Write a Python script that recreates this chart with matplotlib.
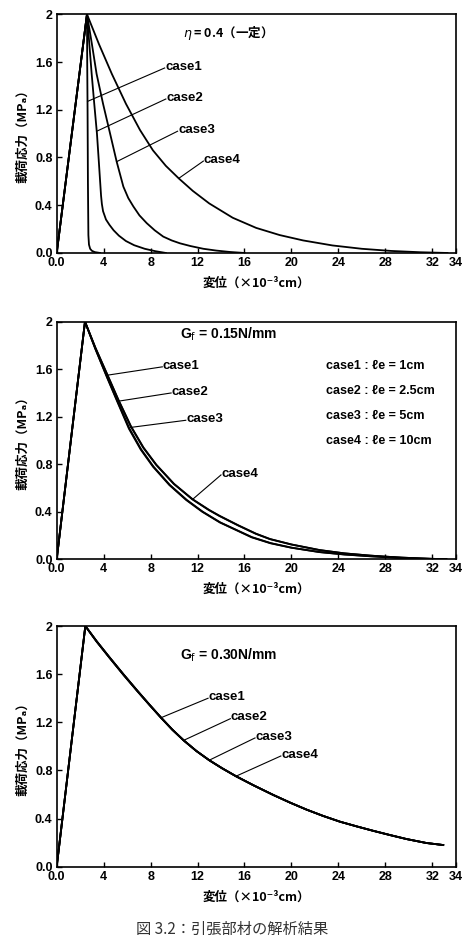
import matplotlib
matplotlib.use('Agg')
import matplotlib.pyplot as plt

# displacement (x1e-3 cm) / loading stress (MPa)
x_ticks = [0, 4, 8, 12, 16, 20, 24, 28, 32, 34]
x_tick_labels = ['0.0', '4', '8', '12', '16', '20', '24', '28', '32', '34']
y_ticks = [0.0, 0.4, 0.8, 1.2, 1.6, 2.0]
y_tick_labels = ['0.0', '0.4', '0.8', '1.2', '1.6', '2']

case_names = ['case1', 'case2', 'case3', 'case4']
le_values = ['1cm', '2.5cm', '5cm', '10cm']

# panel 1 : eta = 0.4 (constant)
eta_c1_x = [0.0, 2.58, 2.6, 2.63, 2.66, 2.7, 2.75, 2.85, 3.0, 3.25, 3.7]
eta_c1_y = [0.0, 2.0, 1.6, 1.2, 0.6, 0.15, 0.07, 0.035, 0.018, 0.007, 0.0]
eta_c2_x = [0.0, 2.58, 2.98, 3.2, 3.43, 3.58, 3.7, 3.78, 3.85, 3.95, 4.2, 4.5, 4.85, 5.3, 5.9, 6.6, 7.5, 8.4, 9.3]
eta_c2_y = [0.0, 2.0, 1.5, 1.25, 1.0, 0.78, 0.6, 0.48, 0.41, 0.35, 0.28, 0.235, 0.19, 0.145, 0.1, 0.065, 0.035, 0.015, 0.0]
eta_c3_x = [0.0, 2.58, 3.0, 3.4, 3.95, 4.55, 5.11, 5.68, 6.1, 6.53, 7.05, 7.67, 8.35, 9.08, 9.8, 10.5, 11.4, 12.5, 13.6, 14.8, 16.0]
eta_c3_y = [0.0, 2.0, 1.75, 1.5, 1.25, 1.0, 0.765, 0.556, 0.46, 0.39, 0.315, 0.25, 0.19, 0.137, 0.105, 0.081, 0.058, 0.035, 0.02, 0.008, 0.0]
eta_c4_x = [0.0, 2.58, 3.6, 4.7, 5.9, 7.1, 8.2, 9.3, 10.4, 11.6, 13.0, 15.0, 17.0, 19.0, 21.0, 23.5, 26.0, 28.5, 31.0, 33.3]
eta_c4_y = [0.0, 2.0, 1.75, 1.5, 1.25, 1.03, 0.86, 0.73, 0.625, 0.52, 0.415, 0.295, 0.21, 0.15, 0.105, 0.063, 0.035, 0.017, 0.006, 0.0]

# panel 2 : Gf = 0.15 N/mm
g15_c1_x = [0.0, 2.41, 3.3, 4.25, 5.15, 6.15, 7.15, 8.2, 9.6, 11.02, 12.4, 13.9, 15.2, 16.6, 18.2, 20.0, 22.4, 24.5, 26.7, 29.0, 31.0, 33.2]
g15_c1_y = [0.0, 2.0, 1.77, 1.54, 1.33, 1.10, 0.925, 0.78, 0.625, 0.50, 0.40, 0.31, 0.25, 0.185, 0.135, 0.097, 0.06, 0.04, 0.025, 0.013, 0.005, 0.0]
g15_c2_x = [0.0, 2.41, 3.3, 4.27, 5.18, 6.2, 7.2, 8.25, 9.65, 11.08, 12.45, 13.95, 15.25, 16.65, 18.25, 20.0, 22.4, 24.5, 26.7, 29.0, 31.0, 33.2]
g15_c2_y = [0.0, 2.0, 1.77, 1.54, 1.33, 1.10, 0.925, 0.78, 0.625, 0.50, 0.40, 0.31, 0.25, 0.186, 0.136, 0.098, 0.061, 0.041, 0.026, 0.013, 0.005, 0.0]
g15_c3_x = [0.0, 2.41, 3.3, 4.32, 5.23, 6.3, 7.37, 8.47, 9.97, 11.55, 12.95, 13.85, 15.45, 16.95, 18.15, 20.0, 22.4, 24.5, 26.7, 29.0, 31.0, 33.2]
g15_c3_y = [0.0, 2.0, 1.78, 1.55, 1.345, 1.12, 0.94, 0.795, 0.635, 0.505, 0.415, 0.365, 0.285, 0.215, 0.17, 0.124, 0.077, 0.05, 0.031, 0.016, 0.007, 0.0]
g15_c4_x = [0.0, 2.41, 3.3, 4.34, 5.25, 6.33, 7.4, 8.5, 10.0, 11.59, 13.0, 13.9, 15.5, 17.0, 18.2, 20.0, 22.4, 24.5, 26.7, 29.0, 31.0, 33.2]
g15_c4_y = [0.0, 2.0, 1.78, 1.55, 1.345, 1.12, 0.94, 0.795, 0.635, 0.505, 0.415, 0.365, 0.285, 0.215, 0.17, 0.125, 0.078, 0.05, 0.031, 0.016, 0.007, 0.0]

# panel 3 : Gf = 0.30 N/mm
g30_x = [0.0, 2.44, 3.4, 4.48, 5.7, 6.9, 7.9, 8.89, 9.85, 10.82, 11.9, 13.0, 14.1, 15.28, 16.8, 18.46, 19.9, 21.3, 22.7, 24.14, 25.6, 26.98, 28.4, 29.8, 31.5, 32.94]
g30_c1_y = [0.0, 2.0, 1.87, 1.738, 1.592, 1.455, 1.344, 1.237, 1.138, 1.049, 0.961, 0.884, 0.817, 0.751, 0.675, 0.596, 0.532, 0.474, 0.422, 0.374, 0.334, 0.298, 0.263, 0.23, 0.197, 0.18]
g30_c2_y = [0.0, 2.0, 1.872, 1.74, 1.595, 1.457, 1.346, 1.238, 1.139, 1.05, 0.962, 0.885, 0.818, 0.752, 0.675, 0.596, 0.532, 0.474, 0.422, 0.374, 0.334, 0.298, 0.263, 0.23, 0.197, 0.18]
g30_c3_y = [0.0, 2.0, 1.874, 1.742, 1.597, 1.459, 1.347, 1.239, 1.14, 1.05, 0.962, 0.885, 0.818, 0.752, 0.675, 0.596, 0.532, 0.474, 0.422, 0.374, 0.334, 0.298, 0.263, 0.23, 0.197, 0.18]
g30_c4_y = [0.0, 2.0, 1.875, 1.743, 1.598, 1.46, 1.348, 1.24, 1.14, 1.05, 0.962, 0.885, 0.818, 0.752, 0.675, 0.596, 0.532, 0.474, 0.422, 0.374, 0.334, 0.298, 0.263, 0.23, 0.197, 0.18]

NUM_FONT = ['Liberation Sans', 'DejaVu Sans']
JP_FONT = ['Noto Sans CJK JP', 'DejaVu Sans']


def setup_axes(ax):
  ax.set_xlim(0, 34)
  ax.set_ylim(0, 2)
  ax.set_xticks(x_ticks)
  ax.set_xticklabels(x_tick_labels)
  ax.set_yticks(y_ticks)
  ax.set_yticklabels(y_tick_labels)
  ax.tick_params(direction='in', length=3.5, width=1, labelsize=9, pad=3)
  for lab in ax.get_xticklabels() + ax.get_yticklabels():
    lab.set_family(NUM_FONT)
    lab.set_fontweight('bold')
  for sp in ax.spines.values():
    sp.set_linewidth(1.2)
  ax.text(0.5, -0.127, '変位（×10⁻³cm）', transform=ax.transAxes, ha='center', va='center',
          fontsize=9, family=JP_FONT, fontweight='bold')
  ax.text(-0.085, 0.5, '載荷応力（MPₐ）', transform=ax.transAxes, ha='center', va='center',
          rotation=90, fontsize=9, family=JP_FONT, fontweight='bold')


def draw_curves(ax, curves):
  for xs, ys in curves:
    ax.plot(xs, ys, color='black', lw=1.3, solid_joinstyle='round')


def draw_leaders(ax, starts, ends):
  for (sx, sy), (ex, ey), name in zip(starts, ends, case_names):
    ax.plot([sx, ex], [sy, ey], color='black', lw=0.8)
    ax.text(ex + 0.05, ey + 0.01, name, ha='left', va='center', fontsize=9.5,
            family=NUM_FONT, fontweight='bold')


fig = plt.figure(figsize=(4.69, 9.39), dpi=100)
fig.patch.set_facecolor('white')

ax1 = fig.add_axes([0.1209, 0.7306, 0.8507, 0.2542])
ax2 = fig.add_axes([0.1209, 0.4044, 0.8507, 0.2530])
ax3 = fig.add_axes([0.1209, 0.0770, 0.8507, 0.2563])

# panel 1
draw_curves(ax1, [(eta_c1_x, eta_c1_y), (eta_c2_x, eta_c2_y), (eta_c3_x, eta_c3_y), (eta_c4_x, eta_c4_y)])
draw_leaders(ax1, [(2.63, 1.27), (3.41, 1.02), (5.11, 0.765), (10.4, 0.625)],
             [(9.2, 1.55), (9.3, 1.29), (10.3, 1.02), (12.5, 0.77)])
ax1.text(10.8, 1.84, r'$\eta$ = 0.4（一定）', ha='left', va='center', fontsize=9,
         family=JP_FONT, fontweight='bold')
setup_axes(ax1)

# panel 2
draw_curves(ax2, [(g15_c1_x, g15_c1_y), (g15_c2_x, g15_c2_y), (g15_c3_x, g15_c3_y), (g15_c4_x, g15_c4_y)])
draw_leaders(ax2, [(4.34, 1.55), (5.2, 1.33), (6.3, 1.11), (11.59, 0.505)],
             [(9.0, 1.62), (9.75, 1.40), (11.0, 1.17), (14.0, 0.71)])
ax2.text(10.5, 1.89, 'G$_\\mathrm{f}$ = 0.15N/mm', ha='left', va='center', fontsize=10,
         family=NUM_FONT, fontweight='bold')
for i, (name, le) in enumerate(zip(case_names, le_values)):
  ax2.text(22.95, 1.627 - 0.21 * i, name + ' : ℓe = ' + le, ha='left', va='center',
           fontsize=9, family=NUM_FONT, fontweight='bold')
setup_axes(ax2)

# panel 3
draw_curves(ax3, [(g30_x, g30_c1_y), (g30_x, g30_c2_y), (g30_x, g30_c3_y), (g30_x, g30_c4_y)])
draw_leaders(ax3, [(8.89, 1.238), (10.82, 1.05), (13.0, 0.885), (15.28, 0.752)],
             [(12.9, 1.40), (14.8, 1.23), (16.9, 1.07), (19.1, 0.92)])
ax3.text(10.5, 1.76, 'G$_\\mathrm{f}$ = 0.30N/mm', ha='left', va='center', fontsize=10,
         family=NUM_FONT, fontweight='bold')
setup_axes(ax3)

fig.text(0.495, 0.0105, '図 3.2：引張部材の解析結果', ha='center', va='center', fontsize=11,
         family=JP_FONT, color='#333333')

fig.savefig('out.png', dpi=100, facecolor='white')
